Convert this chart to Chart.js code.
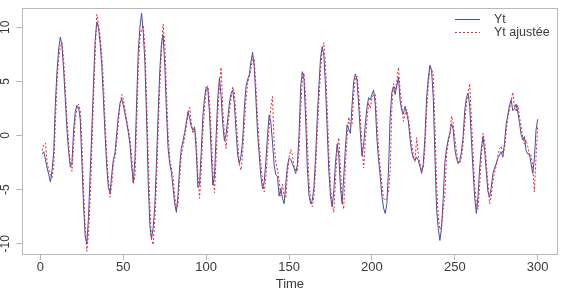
<!DOCTYPE html>
<html>
<head>
<meta charset="utf-8">
<script src="https://cdn.jsdelivr.net/npm/chart.js@4.4.1/dist/chart.umd.min.js"></script>
<style>
  html, body { margin: 0; padding: 0; background: #fff; }
</style>
</head>
<body>
<canvas id="chart" width="564" height="294"></canvas>
<script>
// observed series Yt, t = 1..300
const yt = [
  -1.7, -1.5, -2.2, -3.0, -3.6, -4.3, -3.2, -1.5, 3.0, 6.0,
  8.0, 9.1, 8.3, 6.0, 3.3, 0.5, -1.5, -2.9, -2.5, 0.5,
  2.2, 2.8, 2.6, 1.5, -2.5, -6.5, -9.3, -10.0, -7.5, -3.5,
  0.5, 4.8, 8.8, 10.5, 10.0, 8.5, 6.5, 3.3, 0.0, -2.9,
  -4.8, -5.3, -3.6, -2.2, -1.6, 0.2, 1.8, 3.0, 3.4, 2.8,
  2.0, 1.2, 0.3, -0.8, -2.8, -4.3, -2.2, 3.0, 7.8, 10.0,
  11.3, 9.6, 6.8, 1.7, -4.2, -8.3, -9.6, -8.5, -6.5, -2.5,
  2.0, 6.0, 8.5, 9.3, 6.5, 2.3, -1.2, -2.6, -3.4, -4.8,
  -6.3, -7.1, -5.5, -2.8, -1.2, -0.5, 0.3, 1.2, 2.2, 1.6,
  0.8, 0.5, 0.8, -1.5, -4.8, -4.5, -1.5, 1.8, 3.5, 4.5,
  4.3, 2.0, -1.5, -4.6, -3.8, 0.0, 3.5, 5.3, 3.6, 1.0,
  -0.5, 0.1, 1.5, 3.0, 3.9, 4.2, 2.9, 0.4, -1.8, -2.6,
  -1.9, -0.4, 2.5, 4.5, 5.2, 5.6, 6.8, 7.7, 6.3, 3.3,
  0.2, -1.8, -3.8, -4.9, -4.3, -2.4, 0.0, 1.9, 1.2, -0.6,
  -2.7, -3.6, -3.8, -5.6, -4.9, -5.8, -6.3, -4.5, -2.8, -2.1,
  -2.2, -2.6, -3.0, -3.5, -2.7, 0.0, 4.5, 5.9, 5.2, 1.5,
  -3.0, -5.5, -6.3, -6.0, -4.8, -2.0, 1.6, 4.6, 7.2, 8.2,
  7.4, 4.5, 0.5, -3.3, -5.6, -6.6, -5.1, -2.5, -0.8, -1.8,
  -4.8, -6.3, -3.8, -1.1, 1.0, 0.6, 0.2, 2.8, 5.0, 5.7,
  5.1, 2.8, 0.3, -1.9, -0.8, 1.0, 2.6, 3.5, 3.3, 3.8,
  4.2, 2.9, -0.3, -2.2, -3.8, -5.6, -6.7, -7.2, -6.3, -3.2,
  1.7, 4.0, 4.5, 3.8, 4.6, 5.4, 3.2, 2.3, 2.0, 2.7,
  2.0, 1.3, -0.3, -1.5, -2.1, -2.3, -2.0, -2.3, -2.9, -3.5,
  -2.6, -0.1, 3.5, 5.3, 6.5, 6.0, 3.5, -1.8, -6.8, -8.6,
  -9.7, -8.5, -5.8, -2.5, -1.2, -0.4, 0.2, 1.1, 0.6, -1.2,
  -2.1, -2.6, -2.3, -1.5, -0.1, 2.3, 3.5, 3.9, 2.7, -0.4,
  -3.2, -5.7, -7.2, -5.6, -3.0, -1.2, -0.1, -1.4, -3.4, -5.2,
  -5.7, -4.8, -3.5, -3.0, -2.6, -2.1, -1.8, -1.5, -2.0, -0.7,
  1.1, 1.9, 2.8, 3.3, 2.3, 2.5, 2.9, 2.2, 1.2, 0.1,
  -0.4, -0.1, -1.4, -1.7, -1.7, -2.6, -3.5, -2.2, 0.5, 1.5
];

// fitted series Yt ajustée, t = 1..300
const ytAjustee = [
  -1.4, -0.8, -0.7, -2.5, -3.2, -3.6, -3.9, -2.8, 1.2, 5.0,
  7.2, 8.2, 8.6, 7.0, 4.2, 1.5, -0.8, -2.6, -3.3, -1.0,
  1.5, 2.5, 2.9, 2.3, -0.8, -4.8, -8.6, -10.7, -9.0, -5.8,
  -1.2, 3.5, 7.6, 11.2, 10.3, 9.2, 7.4, 5.0, 1.2, -1.8,
  -4.2, -5.7, -4.6, -2.6, -2.0, -0.6, 1.2, 2.8, 3.8, 3.3,
  2.4, 1.5, 0.6, -0.3, -1.8, -4.5, -3.8, 0.8, 6.0, 9.0,
  9.8, 10.2, 8.2, 3.5, -1.8, -6.5, -9.6, -10.1, -7.8, -4.5,
  0.5, 4.5, 7.8, 10.3, 8.5, 4.2, 0.2, -2.2, -3.0, -3.8,
  -5.5, -6.8, -6.3, -4.0, -1.8, -1.0, -0.2, 0.8, 2.0, 2.6,
  1.2, 0.2, 0.6, -0.4, -3.6, -5.8, -3.2, 0.2, 2.6, 4.0,
  4.6, 3.2, 0.2, -3.2, -5.3, -2.0, 2.0, 4.8, 6.3, 2.5,
  0.2, -1.2, 0.6, 2.2, 3.5, 4.5, 4.0, 1.8, -0.6, -2.8,
  -3.2, -1.6, 0.8, 3.2, 4.8, 5.4, 6.2, 7.3, 7.0, 4.6,
  1.6, -0.8, -2.6, -4.2, -5.2, -3.9, -1.5, 0.8, 2.6, 3.6,
  -0.8, -2.4, -3.2, -4.2, -5.6, -4.5, -5.6, -5.8, -3.6, -2.0,
  -1.3, -1.8, -2.8, -3.2, -3.3, -1.5, 2.3, 5.2, 5.8, 3.5,
  -0.5, -4.2, -6.0, -6.6, -5.6, -3.2, 0.2, 3.2, 6.0, 8.0,
  8.6, 6.4, 2.6, -1.5, -4.6, -6.4, -7.1, -4.2, -1.4, -0.2,
  -3.0, -6.0, -6.8, -2.6, -0.2, 1.7, 0.8, 1.0, 3.8, 5.4,
  5.5, 4.0, 1.6, -1.0, -3.0, -0.5, 1.5, 3.0, 2.5, 3.5,
  3.8, 3.8, 1.5, -1.2, -3.0, -4.5, -5.8, -6.0, -5.8, -5.2,
  -3.3, 2.5, 4.8, 4.2, 5.0, 6.3, 4.2, 2.8, 1.3, 2.0,
  2.4, 1.6, 0.4, -0.8, -1.8, -2.4, -0.2, -1.8, -2.6, -3.3,
  -3.0, -1.2, 2.2, 4.6, 6.3, 6.2, 5.5, 1.0, -4.5, -7.5,
  -8.7, -8.2, -6.8, -5.5, -1.8, -0.6, 0.0, 1.8, 1.2, -0.2,
  -1.5, -2.4, -2.6, -2.0, -0.8, 1.2, 3.0, 4.0, 4.8, 1.5,
  -1.5, -4.6, -6.4, -6.8, -4.6, -2.0, 0.2, -0.5, -2.4, -4.4,
  -6.3, -5.6, -4.2, -3.4, -2.8, -1.9, -1.2, -1.0, -1.6, -1.2,
  0.4, 1.6, 2.4, 3.2, 4.0, 2.6, 2.2, 2.8, 1.8, 0.8,
  -0.2, -0.8, -0.4, -1.0, -1.9, -1.8, -2.8, -5.2, -2.0, 0.8
];

const time = yt.map((v, i) => i + 1);
const xTicks = [0, 50, 100, 150, 200, 250, 300];
const yTicks = [-10, -5, 0, 5, 10];
const seriesLabels = ['Yt', 'Yt ajustée'];

const font = '"Liberation Sans", Arial, Helvetica, sans-serif';
const axisGray = '#b8b8b8';
const textGray = '#3a3a3a';

// box around the plot, rotated y labels and the legend, R style
const rStyle = {
  id: 'rStyle',
  afterDraw(chart) {
    const { ctx, chartArea: a, scales } = chart;
    ctx.save();
    ctx.strokeStyle = axisGray;
    ctx.lineWidth = 1;
    ctx.strokeRect(Math.round(a.left) + 0.5, Math.round(a.top) + 0.5,
      Math.round(a.right - a.left), Math.round(a.bottom - a.top));

    ctx.fillStyle = textGray;
    ctx.font = '12px ' + font;
    ctx.textAlign = 'center';
    ctx.textBaseline = 'middle';
    scales.y.ticks.forEach(t => {
      ctx.save();
      ctx.translate(6, scales.y.getPixelForValue(t.value));
      ctx.rotate(-Math.PI / 2);
      ctx.fillText(String(t.value), 0, 0);
      ctx.restore();
    });

    // legend
    ctx.font = '12.5px ' + font;
    ctx.textAlign = 'left';
    chart.data.datasets.forEach((ds, i) => {
      const y = 19.5 + i * 13;
      ctx.strokeStyle = ds.borderColor;
      ctx.lineWidth = 1;
      ctx.setLineDash(ds.borderDash || []);
      ctx.beginPath();
      ctx.moveTo(455, y);
      ctx.lineTo(480, y);
      ctx.stroke();
      ctx.fillStyle = textGray;
      ctx.fillText(ds.label, 494, y + 0.5);
    });
    ctx.restore();
  }
};

new Chart(document.getElementById('chart'), {
  type: 'line',
  data: {
    datasets: [
      {
        label: seriesLabels[0],
        data: time.map((t, i) => ({ x: t, y: yt[i] })),
        borderColor: '#3d4fae',
        borderWidth: 1,
        order: 2
      },
      {
        label: seriesLabels[1],
        data: time.map((t, i) => ({ x: t, y: ytAjustee[i] })),
        borderColor: '#e8232b',
        borderWidth: 1,
        borderDash: [2, 2],
        order: 1
      }
    ]
  },
  options: {
    responsive: false,
    animation: false,
    devicePixelRatio: 1,
    elements: { point: { radius: 0 }, line: { tension: 0 } },
    layout: { padding: { top: 8.3, right: 6.5, bottom: 0, left: 0 } },
    plugins: { legend: { display: false }, tooltip: { enabled: false } },
    scales: {
      x: {
        type: 'linear',
        min: -10.96,
        max: 311.96,
        afterBuildTicks: axis => { axis.ticks = xTicks.map(v => ({ value: v })); },
        afterFit: axis => { axis.height = 40; },
        border: { display: false },
        grid: { drawOnChartArea: false, drawTicks: true, tickLength: 6, color: axisGray },
        ticks: { padding: 0, color: textGray, font: { family: font, size: 13 }, maxRotation: 0 },
        title: { display: true, text: 'Time', color: textGray, font: { family: font, size: 13 }, padding: { top: 2, bottom: 2 } }
      },
      y: {
        min: -10.95,
        max: 11.76,
        afterBuildTicks: axis => { axis.ticks = yTicks.map(v => ({ value: v })); },
        afterFit: axis => { axis.width = 22.3; },
        border: { display: false },
        grid: { drawOnChartArea: false, drawTicks: true, tickLength: 6, color: axisGray },
        ticks: { display: false }
      }
    }
  },
  plugins: [rStyle]
});
</script>
</body>
</html>
